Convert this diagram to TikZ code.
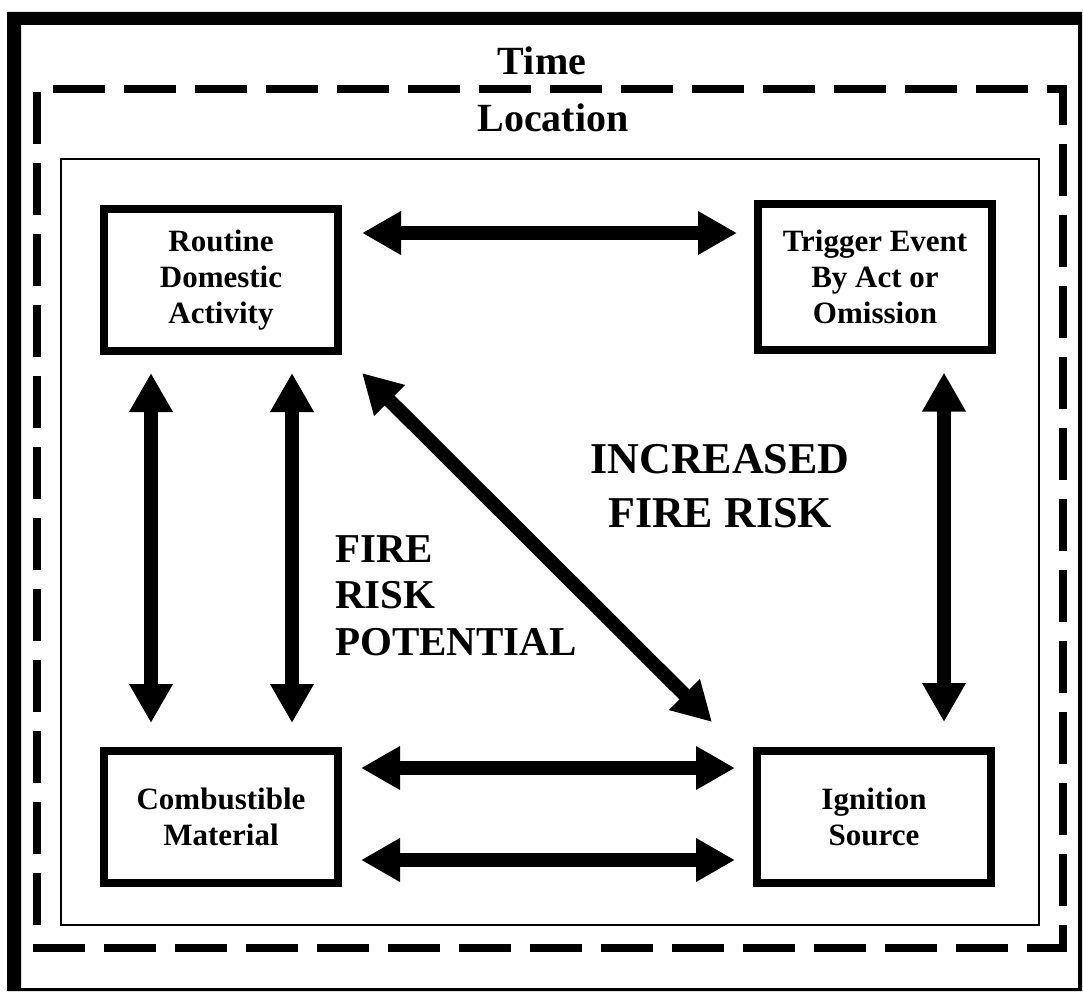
\documentclass[tikz,border=0pt]{standalone}
\usepackage{fontspec}
\setmainfont{Liberation Serif}
\usepackage{tikz}
\usetikzlibrary{arrows.meta}

\tikzset{
  factor/.style={draw, line width=8pt, minimum width=234pt, align=center, inner sep=0pt,
    font=\bfseries\fontsize{31}{36}\selectfont},
  twoway/.style={line width=14pt, {Triangle[width=41pt,length=39pt]}-{Triangle[width=41pt,length=39pt]}},
  bigtext/.style 2 args={inner sep=0pt, font=\bfseries\fontsize{#1}{#2}\selectfont}
}

\begin{document}
\begin{tikzpicture}[x=1pt, y=-1pt]
					\useasboundingbox (0,0) rectangle (1083,992);
					\fill[even odd rule] (7,12) rectangle (1082,991) (21,25) rectangle (1078,988);
					\draw[line width=8pt, dash pattern=on 52pt off 19pt] (1063,932) -- (1063,948) -- (37,948) -- (37,89) -- (1063,89) -- cycle;
					\draw[line width=2.5pt] (61,159) rectangle (1039,925);
					\node[bigtext={40}{47}, anchor=base] (time) at (542,75) {Time};
					\node[bigtext={40}{47}, anchor=base] (location) at (553,132) {Location};
					\node[factor, minimum height=142pt] (routine) at (221,280) {Routine\\Domestic\\Activity};
					\node[factor, minimum height=145pt] (trigger) at (875,277) {Trigger Event\\By Act or\\Omission};
					\node[factor, minimum height=132pt] (combust) at (221,817) {Combustible\\Material};
					\node[factor, minimum height=132pt] (ignition) at (874,817) {Ignition\\Source};
					\draw[twoway, shorten <=20pt, shorten >=17pt] ([yshift=47pt]routine.east) -- ([yshift=44pt]trigger.west);
					\draw[twoway, shorten <=19pt, shorten >=18pt] ([yshift=49pt]combust.east) -- ([yshift=49pt]ignition.west);
					\draw[twoway, shorten <=19pt, shorten >=18pt] ([yshift=-43pt]combust.east) -- ([yshift=-43pt]ignition.west);
					\draw[twoway, shorten <=18pt, shorten >=24pt] ([xshift=-70pt]routine.south) -- ([xshift=-70pt]combust.north);
					\draw[twoway, shorten <=18pt, shorten >=24pt] ([xshift=71pt]routine.south) -- ([xshift=71pt]combust.north);
					\draw[twoway, shorten <=19pt, shorten >=25pt] ([xshift=69pt]trigger.south) -- ([xshift=70pt]ignition.north);
					\draw[twoway] ([shift={(20,18)}]routine.south east) -- ([shift={(-41,-25)}]ignition.north west);
					\node[bigtext={44}{54}, align=center, anchor=base] (increased) at (720,527) {INCREASED\\FIRE RISK};
					\node[bigtext={41}{46.5}, align=left, anchor=base west] (potential) at (335,655) {FIRE\\RISK\\POTENTIAL};
				\end{tikzpicture}
\end{document}
